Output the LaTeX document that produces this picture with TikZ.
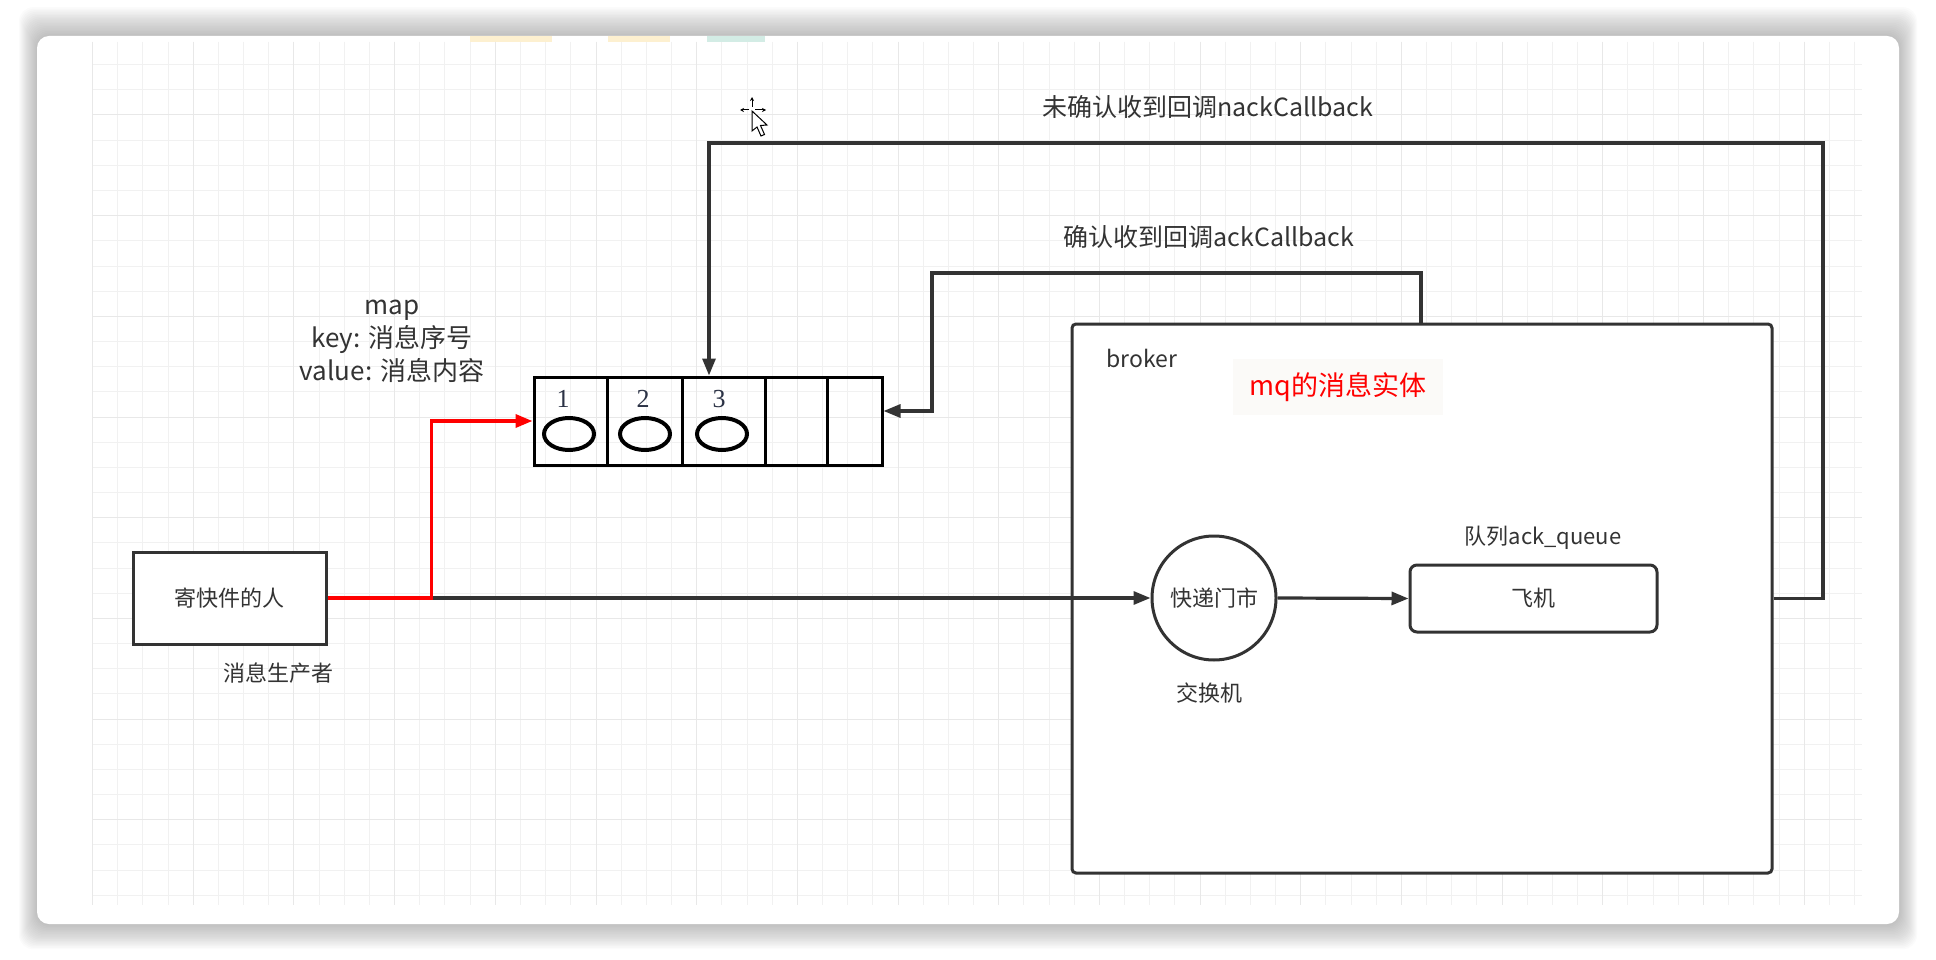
\documentclass[tikz,border=0pt]{standalone}
\usepackage{fontspec}
\setmainfont{Noto Sans CJK SC}
\newfontfamily\numfont{Liberation Serif}
\usetikzlibrary{arrows.meta}
\definecolor{ink}{HTML}{333333}
\definecolor{numcol}{HTML}{2B3245}
\definecolor{gridlo}{HTML}{F1F1F1}
\definecolor{gridhi}{HTML}{E8E8E8}
\definecolor{tabyellow}{HTML}{FDF0D0}
\definecolor{tabgreen}{HTML}{D3ECE5}
\definecolor{notebg}{HTML}{FBFAF8}
\newcommand{\fsz}[2]{\fontsize{#1}{#2}\selectfont}

\begin{document}
\begin{tikzpicture}[x=1pt,y=-1pt,
        conn/.style={draw=ink, line width=3.2pt, -{Triangle[length=17pt,width=13pt]}},
        box/.style={draw=ink, line width=3pt, fill=white, text=ink},
        cell/.style={draw=black, line width=3pt, minimum height=88, inner sep=0pt},
        lbl/.style={text=ink, inner sep=0pt}]
    \useasboundingbox (0,0) rectangle (1936,960);

    % window card with its shadow
    \foreach \s in {1,...,18}{
        \fill[black, opacity=0.016, rounded corners=14pt] ({37-\s},{36-1.6*\s}) rectangle ({1899+\s},{924+1.4*\s});
    }
    \fill[white, rounded corners=12pt] (37,36) rectangle (1899,924);
    \fill[tabyellow] (470,36) rectangle (552,42);
    \fill[tabyellow] (608,36) rectangle (670,42);
    \fill[tabgreen] (707,36) rectangle (765,42);

    % grid
    \foreach \i in {0,...,70}{
        \draw[gridlo, line width=1pt] ({92.6+25.17*\i},42) -- ({92.6+25.17*\i},905);
    }
    \foreach \j in {-2,...,31}{
        \draw[gridlo, line width=1pt] (93,{115+25.17*\j}) -- (1862,{115+25.17*\j});
    }
    \foreach \i in {0,4,...,68}{
        \draw[gridhi, line width=1pt] ({92.6+25.17*\i},42) -- ({92.6+25.17*\i},905);
    }
    \foreach \j in {0,4,...,28}{
        \draw[gridhi, line width=1pt] (93,{115+25.17*\j}) -- (1862,{115+25.17*\j});
    }

    % producer
    \node[box, minimum width=193, minimum height=92, font=\fsz{22}{26}] (sender) at (229.5,598) {寄快件的人};
    \node[lbl, font=\fsz{22}{26}] (producer) at (278,673) {消息生产者};

    % map of unconfirmed messages
    \foreach \i/\cx/\w in {1/570.5/73, 2/644.5/75, 3/723.5/83, 4/796/62, 5/854.5/55}{
        \node[cell, minimum width=\w] (c\i) at (\cx,421) {};
    }
    \foreach \i/\ex/\nx in {1/569/563, 2/645/643, 3/722/719}{
        \draw[black, line width=4pt] (\ex,434) ellipse [x radius=25, y radius=16];
        \node[font=\numfont\fsz{26}{28}, text=numcol, inner sep=0pt] (num\i) at (\nx,399) {\i};
    }
    \node[lbl, align=center, font=\fsz{26}{33}] (maptext) at (392,341) {map\\key: 消息序号\\value: 消息内容};

    % broker
    \node[box, rounded corners=4pt, minimum width=700, minimum height=549] (broker) at (1422,598.5) {};
    \node[lbl, font=\fsz{23}{26}, anchor=west] (brokername) at (1106,358) {broker};
    \node[fill=notebg, minimum width=210, minimum height=56, text=red, font=\fsz{27}{30}] (note) at (1338,387) {mq的消息实体};
    \node[box, circle, minimum size=124, font=\fsz{22}{26}] (exchange) at (1214,598) {快递门市};
    \node[lbl, font=\fsz{22}{26}] (exchangename) at (1209,693) {交换机};
    \node[box, rounded corners=7pt, minimum width=247, minimum height=67, font=\fsz{22}{26}] (plane) at (1533.5,598.5) {飞机};
    \node[lbl, font=\fsz{22}{26}] (queuename) at (1543,538) {队列ack\_queue};

    % callbacks
    \node[lbl, font=\fsz{25}{28}] (nacklabel) at (1208,107) {未确认收到回调nackCallback};
    \node[lbl, font=\fsz{25}{28}] (acklabel) at (1209,237) {确认收到回调ackCallback};
    \coordinate (ackout) at (1421,273);
    \coordinate (ackturn) at (932,273);
    \coordinate (nackturn) at (1823,143);

    \draw[conn] (sender.east) -- (exchange.west);
    \draw[conn, draw=red, line width=3.4pt] (sender.east) -- ++(104,0) |- (c1.west);
    \draw[conn] (exchange.east) -- (plane.west);
    \draw[conn] (ackout |- broker.north) -- (ackout) -- (ackturn) |- ([yshift=10pt]c5.east);
    \draw[conn] (broker.east |- plane) -| (nackturn) -| ([xshift=-14.5pt]c3.north);

    % mouse pointer
    \draw[black, line width=1pt, -{Stealth[length=4pt,width=4pt]}] (752,107) -- (752,97);
    \draw[black, line width=1pt, -{Stealth[length=4pt,width=4pt]}] (749,110) -- (740,110);
    \draw[black, line width=1pt, -{Stealth[length=4pt,width=4pt]}] (755,110) -- (766,110);
    \draw[black, fill=white, line width=1pt] (752,111) -- (752,131) -- (757,127) -- (761,136) -- (764.5,134.5) -- (760.5,125.5) -- (767,125) -- cycle;
\end{tikzpicture}
\end{document}
